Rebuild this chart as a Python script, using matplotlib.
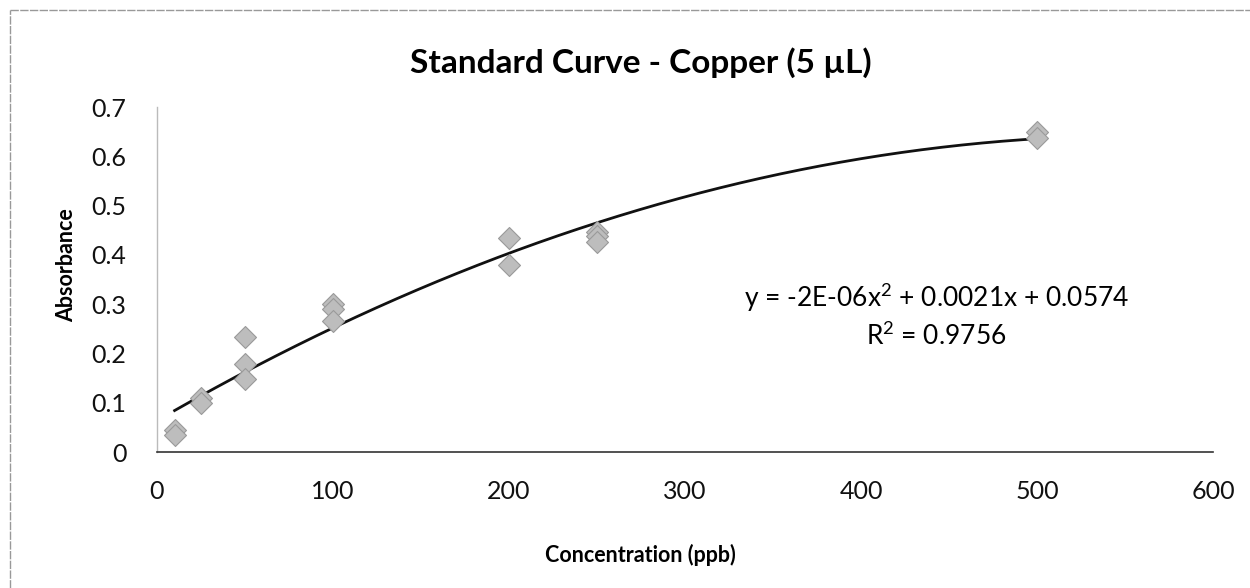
import numpy as np
import matplotlib
matplotlib.use("Agg")
import matplotlib.pyplot as plt
from matplotlib.lines import Line2D

# Data
conc = [10, 10, 25, 25, 50, 50, 50, 100, 100, 100, 200, 200, 250, 250, 250, 500, 500]
absorb = [0.045, 0.035, 0.11, 0.10, 0.233, 0.178, 0.148, 0.30, 0.29, 0.266,
          0.434, 0.38, 0.446, 0.438, 0.426, 0.65, 0.637]
x_ticks = [0, 100, 200, 300, 400, 500, 600]
y_ticks = [0, 0.1, 0.2, 0.3, 0.4, 0.5, 0.6, 0.7]
title = "Standard Curve - Copper (5 \u00b5L)"
eq_text = "y = -2E-06x$^2$ + 0.0021x + 0.0574\nR$^2$ = 0.9756"

plt.rcParams['font.family'] = ['Lato', 'DejaVu Sans']
plt.rcParams['mathtext.fontset'] = 'custom'
plt.rcParams['mathtext.rm'] = 'Lato'
plt.rcParams['mathtext.it'] = 'Lato'

fig = plt.figure(figsize=(12.5, 5.88), dpi=100)
ax = fig.add_axes([0.1256, 0.231, 0.8448, 0.587])

coef = np.polyfit(conc, absorb, 2)
xf = np.linspace(min(conc), max(conc), 300)
ax.plot(xf, np.polyval(coef, xf), color='#111111', lw=2.0, zorder=2)
ax.scatter(conc, absorb, marker='D', s=125, color='#bdbdbd', edgecolors='#9a9a9a',
           linewidths=0.8, zorder=3)

ax.set_xlim(0, 600)
ax.set_ylim(0, 0.7)
ax.set_xticks(x_ticks)
ax.set_yticks(y_ticks)
ax.set_yticklabels(['0' if v == 0 else f'{v:.1f}' for v in y_ticks])
ax.tick_params(length=0, labelsize=18, colors='#111111')
ax.tick_params(axis='x', pad=20)
ax.tick_params(axis='y', pad=22)
for s in ['top', 'right']:
    ax.spines[s].set_visible(False)
ax.spines['left'].set_color('#bbbbbb')
ax.spines['left'].set_linewidth(1.0)
ax.spines['bottom'].set_color('#333333')
ax.spines['bottom'].set_linewidth(1.2)

ax.set_xlabel('Concentration (ppb)', fontsize=15.5, fontweight='bold', labelpad=16)
ax.xaxis.set_label_coords(0.458, -0.265)
ax.set_ylabel('Absorbance', fontsize=15.5, fontweight='bold')
ax.yaxis.set_label_coords(-0.076, 0.542)
fig.text(0.513, 0.893, title, fontsize=24, fontweight='bold', ha='center', va='center')

ax.text(0.738, 0.395, eq_text, transform=ax.transAxes, fontsize=19, ha='center',
        va='center', linespacing=1.35)

# faint outer chart border (top and left)
fig.add_artist(Line2D([0.008, 1.0], [0.983, 0.983], color='#999999', lw=1.0,
                      ls=(0, (6, 1)), transform=fig.transFigure))
fig.add_artist(Line2D([0.008, 0.008], [0.0, 0.983], color='#999999', lw=1.0,
                      ls=(0, (6, 1)), transform=fig.transFigure))

fig.savefig('out.png', dpi=100)
